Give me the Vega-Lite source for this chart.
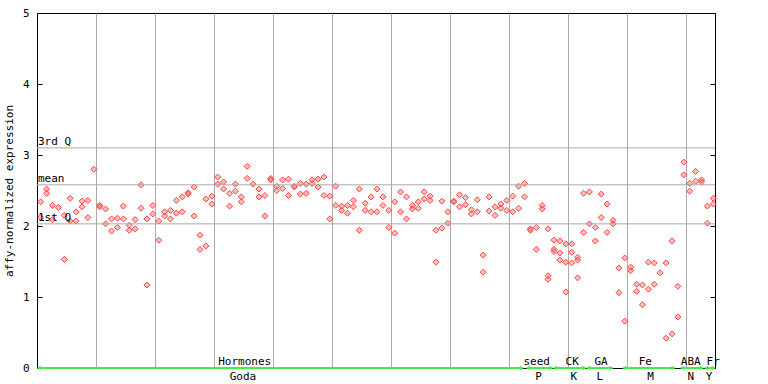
{
"$schema": "https://vega.github.io/schema/vega-lite/v6.json",
"width": 678, "height": 355,
"autosize": "none",
"padding": {"left": 37, "top": 13, "right": 53, "bottom": 16},
"config": {"view": {"stroke": "#000000", "strokeWidth": 1}, "font": "DejaVu Sans Mono",
  "axis": {"labelFont": "DejaVu Sans Mono", "titleFont": "DejaVu Sans Mono"}},
"datasets": {
"pts": [
{"s":0,"v":2.34},{"s":0,"v":2.12},{"s":1,"v":2.52},{"s":1,"v":2.46},{"s":2,"v":2.29},{"s":2,"v":2.09},{"s":3,"v":2.26},
{"s":4,"v":2.15},{"s":4,"v":1.53},{"s":5,"v":2.39},{"s":5,"v":2.07},{"s":6,"v":2.20},{"s":6,"v":2.07},{"s":7,"v":2.35},{"s":7,"v":2.27},
{"s":8,"v":2.36},{"s":8,"v":2.12},{"s":9,"v":2.80},{"s":10,"v":2.29},{"s":10,"v":2.27},{"s":11,"v":2.24},{"s":11,"v":2.03},
{"s":12,"v":2.10},{"s":12,"v":1.93},{"s":13,"v":2.11},{"s":13,"v":1.98},{"s":14,"v":2.28},{"s":14,"v":2.10},{"s":15,"v":2.01},{"s":15,"v":1.94},
{"s":16,"v":2.09},{"s":16,"v":1.96},{"s":17,"v":2.58},{"s":17,"v":2.25},{"s":18,"v":2.10},{"s":18,"v":1.17},{"s":19,"v":2.29},{"s":19,"v":2.17},
{"s":20,"v":2.07},{"s":20,"v":1.80},{"s":21,"v":2.20},{"s":21,"v":2.14},{"s":22,"v":2.22},{"s":22,"v":2.10},{"s":23,"v":2.36},{"s":23,"v":2.18},
{"s":24,"v":2.41},{"s":24,"v":2.20},{"s":25,"v":2.47},{"s":25,"v":2.45},{"s":26,"v":2.55},{"s":26,"v":2.14},{"s":27,"v":1.87},{"s":27,"v":1.67},
{"s":28,"v":2.38},{"s":28,"v":1.72},{"s":29,"v":2.42},{"s":29,"v":2.31},{"s":30,"v":2.69},{"s":30,"v":2.59},{"s":31,"v":2.62},{"s":31,"v":2.52},
{"s":32,"v":2.46},{"s":32,"v":2.28},{"s":33,"v":2.59},{"s":33,"v":2.49},{"s":34,"v":2.41},{"s":34,"v":2.34},{"s":35,"v":2.84},{"s":35,"v":2.67},
{"s":36,"v":2.59},{"s":37,"v":2.52},{"s":37,"v":2.41},{"s":38,"v":2.43},{"s":38,"v":2.14},{"s":39,"v":2.67},{"s":39,"v":2.65},
{"s":40,"v":2.56},{"s":40,"v":2.50},{"s":41,"v":2.65},{"s":41,"v":2.53},{"s":42,"v":2.66},{"s":42,"v":2.43},{"s":43,"v":2.56},{"s":43,"v":2.55},
{"s":44,"v":2.60},{"s":44,"v":2.45},{"s":45,"v":2.59},{"s":45,"v":2.46},{"s":46,"v":2.65},{"s":46,"v":2.60},{"s":47,"v":2.66},{"s":47,"v":2.55},
{"s":48,"v":2.69},{"s":48,"v":2.43},{"s":49,"v":2.42},{"s":49,"v":2.10},{"s":50,"v":2.56},{"s":50,"v":2.29},{"s":51,"v":2.28},{"s":51,"v":2.22},
{"s":52,"v":2.29},{"s":52,"v":2.18},{"s":53,"v":2.36},{"s":53,"v":2.27},{"s":54,"v":2.52},{"s":54,"v":1.94},{"s":55,"v":2.32},{"s":55,"v":2.22},
{"s":56,"v":2.41},{"s":56,"v":2.20},{"s":57,"v":2.52},{"s":57,"v":2.20},{"s":58,"v":2.41},{"s":58,"v":2.29},{"s":59,"v":2.22},{"s":59,"v":1.98},
{"s":60,"v":2.34},{"s":60,"v":1.90},{"s":61,"v":2.48},{"s":61,"v":2.20},{"s":62,"v":2.41},{"s":62,"v":2.10},{"s":63,"v":2.29},{"s":63,"v":2.24},
{"s":64,"v":2.34},{"s":64,"v":2.25},{"s":65,"v":2.48},{"s":65,"v":2.38},{"s":66,"v":2.42},{"s":66,"v":2.36},{"s":67,"v":1.94},{"s":67,"v":1.49},
{"s":68,"v":2.35},{"s":68,"v":1.97},{"s":69,"v":2.20},{"s":69,"v":2.04},{"s":70,"v":2.35},{"s":70,"v":2.34},{"s":71,"v":2.44},{"s":71,"v":2.27},
{"s":72,"v":2.40},{"s":72,"v":2.30},{"s":73,"v":2.23},{"s":73,"v":2.17},{"s":74,"v":2.37},{"s":74,"v":2.20},{"s":75,"v":1.59},{"s":75,"v":1.35},
{"s":76,"v":2.41},{"s":76,"v":2.21},{"s":77,"v":2.27},{"s":77,"v":2.15},{"s":78,"v":2.31},{"s":78,"v":2.25},{"s":79,"v":2.36},{"s":79,"v":2.22},
{"s":80,"v":2.42},{"s":80,"v":2.20},{"s":81,"v":2.56},{"s":81,"v":2.25},{"s":82,"v":2.60},{"s":82,"v":2.41},{"s":83,"v":1.96},{"s":83,"v":1.94},
{"s":84,"v":1.98},{"s":84,"v":1.67},{"s":85,"v":2.29},{"s":85,"v":2.24},{"s":86,"v":1.96},{"s":86,"v":1.30},{"s":86,"v":1.25},
{"s":87,"v":1.80},{"s":87,"v":1.67},{"s":87,"v":1.64},{"s":88,"v":1.79},{"s":88,"v":1.62},{"s":88,"v":1.52},
{"s":89,"v":1.75},{"s":89,"v":1.49},{"s":89,"v":1.07},{"s":90,"v":1.75},{"s":90,"v":1.63},{"s":90,"v":1.48},
{"s":91,"v":1.56},{"s":91,"v":1.52},{"s":91,"v":1.27},{"s":92,"v":2.46},{"s":92,"v":1.91},{"s":93,"v":2.48},{"s":93,"v":2.03},
{"s":94,"v":1.98},{"s":94,"v":1.79},{"s":95,"v":2.45},{"s":95,"v":2.12},{"s":96,"v":2.31},{"s":96,"v":1.91},{"s":97,"v":2.08},{"s":97,"v":2.03},
{"s":98,"v":1.41},{"s":98,"v":1.06},{"s":99,"v":1.55},{"s":99,"v":0.66},{"s":100,"v":1.42},{"s":100,"v":1.37},{"s":101,"v":1.18},{"s":101,"v":1.08},
{"s":102,"v":1.17},{"s":102,"v":0.89},{"s":103,"v":1.49},{"s":103,"v":1.11},{"s":104,"v":1.48},{"s":104,"v":1.18},{"s":105,"v":1.34},
{"s":106,"v":1.48},{"s":106,"v":0.42},{"s":107,"v":1.79},{"s":107,"v":0.48},{"s":108,"v":1.15},{"s":108,"v":0.72},
{"s":109,"v":2.90},{"s":109,"v":2.72},{"s":110,"v":2.60},{"s":110,"v":2.49},{"s":111,"v":2.77},{"s":111,"v":2.63},
{"s":112,"v":2.65},{"s":112,"v":2.62},{"s":113,"v":2.28},{"s":113,"v":2.04},{"s":114,"v":2.39},{"s":114,"v":2.31}
],
"stats": [{"label":"3rd Q","v":3.10},{"label":"mean","v":2.58},{"label":"1st Q","v":2.03}],
"cats": [
{"name":"Hormones","code":"Goda","start":0.3,"end":82.2,"lx":35.2,"cx":34.9},
{"name":"seed","code":"P","start":83.2,"end":87.2,"lx":84.7,"cx":85.0},
{"name":"CK","code":"K","start":87.8,"end":92.8,"lx":90.7,"cx":91.0},
{"name":"GA","code":"L","start":93.4,"end":97.4,"lx":95.6,"cx":95.4},
{"name":"Fe","code":"M","start":99.5,"end":107.9,"lx":103.1,"cx":104.0},
{"name":"ABA","code":"N","start":109.3,"end":112.7,"lx":110.8,"cx":110.8},
{"name":"Fr","code":"Y","start":113.4,"end":114.7,"lx":114.6,"cx":113.9}
]
},
"resolve": {"axis": {"y": "independent"}},
"layer": [
{"data": {"name": "pts"}, "mark": {"type": "point", "shape": "diamond", "size": 36, "filled": true, "fill": "#ff6a6a", "fillOpacity": 0.45, "stroke": "#ff4444", "strokeWidth": 1, "xOffset": 3.7},
 "encoding": {"x": {"field": "s", "type": "quantitative", "scale": {"domain": [0, 114.915], "nice": false, "zero": false},
   "axis": {"orient": "bottom", "values": [10,20,30,40,50,60,70,80,90,100,110], "grid": true, "gridColor": "#aaaaaa", "gridWidth": 1, "gridOpacity": 1, "labels": false, "ticks": false, "domain": false, "title": null}},
  "y": {"field": "v", "type": "quantitative", "scale": {"domain": [0, 5], "nice": false},
   "axis": {"orient": "left", "values": [0,1,2,3,4,5], "grid": false, "tickSize": -5, "tickColor": "#000000", "tickWidth": 1, "labelPadding": 13, "labelFontSize": 11, "labelColor": "#000000", "domain": false,
     "title": "affy-normalized expression", "titleFontSize": 11, "titleFontWeight": "normal", "titleColor": "#000000", "titlePadding": 8}}}},
{"data": {"name": "stats"}, "mark": {"type": "rule", "color": "#aaaaaa", "strokeWidth": 1},
 "encoding": {"y": {"field": "v", "type": "quantitative",
   "axis": {"orient": "right", "values": [0,1,2,3,4,5], "labels": false, "tickSize": -5, "tickColor": "#000000", "tickWidth": 1, "domain": false, "grid": false, "title": null}}}},
{"data": {"name": "stats"}, "mark": {"type": "text", "align": "left", "baseline": "alphabetic", "dx": 1, "dy": -3, "fontSize": 11, "font": "DejaVu Sans Mono", "color": "#000000"},
 "encoding": {"x": {"datum": 0, "type": "quantitative",
   "axis": {"orient": "bottom", "values": [10,20,30,40,50,60,70,80,90,100,110], "grid": true, "gridColor": "#aaaaaa", "gridWidth": 1, "gridOpacity": 1, "labels": false, "ticks": false, "domain": false, "title": null}},
  "y": {"field": "v", "type": "quantitative", "axis": null}, "text": {"field": "label"}}},
{"data": {"name": "cats"}, "mark": {"type": "rule", "color": "#44ee44", "strokeWidth": 2},
 "encoding": {"x": {"field": "start", "type": "quantitative",
   "axis": {"orient": "bottom", "values": [10,20,30,40,50,60,70,80,90,100,110], "grid": true, "gridColor": "#aaaaaa", "gridWidth": 1, "gridOpacity": 1, "labels": false, "ticks": false, "domain": false, "title": null}},
  "x2": {"field": "end"}, "y": {"datum": 0, "type": "quantitative", "axis": null}}},
{"data": {"name": "cats"}, "mark": {"type": "point", "shape": "triangle-left", "size": 22, "filled": true, "color": "#44ee44", "opacity": 1},
 "encoding": {"x": {"field": "start", "type": "quantitative",
   "axis": {"orient": "bottom", "values": [10,20,30,40,50,60,70,80,90,100,110], "grid": true, "gridColor": "#aaaaaa", "gridWidth": 1, "gridOpacity": 1, "labels": false, "ticks": false, "domain": false, "title": null}},
  "y": {"datum": 0, "type": "quantitative", "axis": null}}},
{"data": {"name": "cats"}, "mark": {"type": "point", "shape": "triangle-right", "size": 22, "filled": true, "color": "#44ee44", "opacity": 1},
 "encoding": {"x": {"field": "end", "type": "quantitative",
   "axis": {"orient": "bottom", "values": [10,20,30,40,50,60,70,80,90,100,110], "grid": true, "gridColor": "#aaaaaa", "gridWidth": 1, "gridOpacity": 1, "labels": false, "ticks": false, "domain": false, "title": null}},
  "y": {"datum": 0, "type": "quantitative", "axis": null}}},
{"data": {"name": "cats"}, "mark": {"type": "text", "align": "center", "baseline": "alphabetic", "dy": -3, "fontSize": 11, "font": "DejaVu Sans Mono", "color": "#000000"},
 "encoding": {"x": {"field": "lx", "type": "quantitative",
   "axis": {"orient": "bottom", "values": [10,20,30,40,50,60,70,80,90,100,110], "grid": true, "gridColor": "#aaaaaa", "gridWidth": 1, "gridOpacity": 1, "labels": false, "ticks": false, "domain": false, "title": null}},
  "y": {"datum": 0, "type": "quantitative", "axis": null}, "text": {"field": "name"}}},
{"data": {"name": "cats"}, "mark": {"type": "text", "align": "center", "baseline": "top", "dy": 3, "fontSize": 11, "font": "DejaVu Sans Mono", "color": "#000000"},
 "encoding": {"x": {"field": "cx", "type": "quantitative",
   "axis": {"orient": "bottom", "values": [10,20,30,40,50,60,70,80,90,100,110], "grid": true, "gridColor": "#aaaaaa", "gridWidth": 1, "gridOpacity": 1, "labels": false, "ticks": false, "domain": false, "title": null}},
  "y": {"datum": 0, "type": "quantitative", "axis": null}, "text": {"field": "code"}}}
]
}
